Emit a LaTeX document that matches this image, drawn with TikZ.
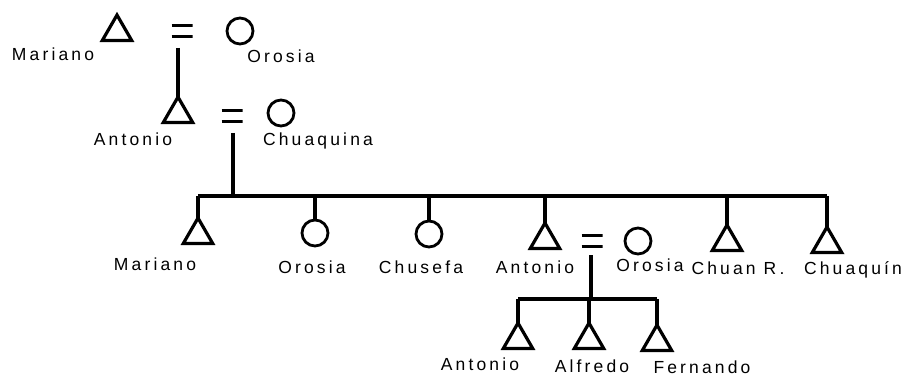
\documentclass[tikz,border=0pt]{standalone}
\usepackage{fontspec}
\setmainfont{Liberation Sans}[LetterSpace=18]
\usetikzlibrary{shapes.geometric}
\begin{document}
\begin{tikzpicture}[x=1pt,y=-1pt,
  male/.style={draw,line width=3.2pt,regular polygon,regular polygon sides=3,minimum size=34pt,inner sep=0pt,outer sep=0pt,anchor=corner 1},
  female/.style={draw,line width=2.8pt,circle,minimum size=26pt,inner sep=0pt,outer sep=0pt},
  lbl/.style={font=\fontsize{17.5}{20}\selectfont,inner sep=0pt},
  eqsign/.style={minimum width=21pt,minimum height=14pt,inner sep=0pt,
    path picture={\draw[line width=3.2pt] ([yshift=-1.7pt]path picture bounding box.north west) -- ([yshift=-1.7pt]path picture bounding box.north east);
                  \draw[line width=3.2pt] ([yshift=1.7pt]path picture bounding box.south west) -- ([yshift=1.7pt]path picture bounding box.south east);}},
  link/.style={line width=3.2pt}]
\useasboundingbox (0,0) rectangle (903,377);
% generation 1
\node[male] (m1) at (117,15) {};
\node[eqsign] (e1) at (182,31) {};
\node[female] (f1) at (240,31) {};
\node[lbl] (l_m1) at (53,54) {Mariano};
\node[lbl] (l_f1) at (281,56) {Orosia};
% generation 2
\node[male] (m2) at (178,97) {};
\node[eqsign] (e2) at (232,116) {};
\node[female] (f2) at (281,113) {};
\node[lbl] (l_m2) at (133,139) {Antonio};
\node[lbl] (l_f2) at (318,141) {Chuaquina};
\coordinate (d1) at (178,48);
\draw[link] (d1) -- (m2.corner 1);
% generation 3
\node[male] (c1) at (198,218) {};
\node[female] (c2) at (315,233) {};
\node[female] (c3) at (429,234) {};
\node[male] (c4) at (545,223) {};
\node[eqsign] (e3) at (592,241) {};
\node[female] (c4w) at (638,241) {};
\node[male] (c5) at (727,225) {};
\node[male] (c6) at (827,227) {};
\node[lbl] (l_c1) at (155,264) {Mariano};
\node[lbl] (l_c2) at (312,267) {Orosia};
\node[lbl] (l_c3) at (421,267) {Chusefa};
\node[lbl] (l_c4) at (535,267) {Antonio};
\node[lbl] (l_c4w) at (650,265) {Orosia};
\node[lbl] (l_c5) at (738,268) {Chuan R.};
\node[lbl] (l_c6) at (853,270) {Chuaquín};
\coordinate (d2) at (233,133);
\coordinate (bar1) at (233,196);
\draw[link] (d2) -- (bar1);
\draw[link] (c1.corner 1 |- bar1) -- (c6.corner 1 |- bar1);
\draw[link] (c1.corner 1) -- (c1.corner 1 |- bar1);
\draw[link] (c2.north) -- (c2.north |- bar1);
\draw[link] (c3.north) -- (c3.north |- bar1);
\draw[link] (c4.corner 1) -- (c4.corner 1 |- bar1);
\draw[link] (c5.corner 1) -- (c5.corner 1 |- bar1);
\draw[link] (c6.corner 1) -- (c6.corner 1 |- bar1);
% generation 4
\node[male] (g1) at (518,323) {};
\node[male] (g2) at (589,323) {};
\node[male] (g3) at (657,325) {};
\node[lbl] (l_g1) at (480,364) {Antonio};
\node[lbl] (l_g2) at (592,366) {Alfredo};
\node[lbl] (l_g3) at (702,367) {Fernando};
\coordinate (d3) at (591,255);
\coordinate (bar2) at (591,299);
\draw[link] (d3) -- (bar2);
\draw[link] (g1.corner 1 |- bar2) -- (g3.corner 1 |- bar2);
\draw[link] (g1.corner 1) -- (g1.corner 1 |- bar2);
\draw[link] (g2.corner 1) -- (g2.corner 1 |- bar2);
\draw[link] (g3.corner 1) -- (g3.corner 1 |- bar2);
\end{tikzpicture}
\end{document}
